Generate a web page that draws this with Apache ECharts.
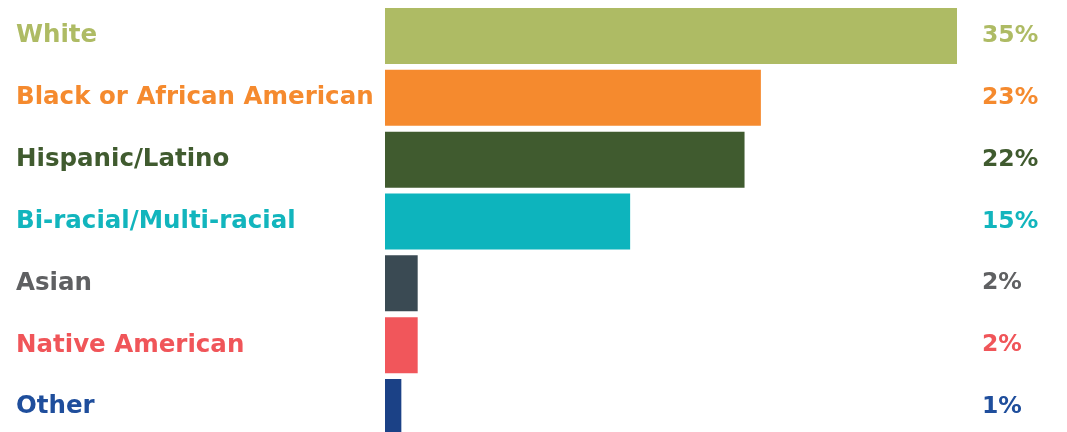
<!DOCTYPE html>
<html><head><meta charset="utf-8">
<script src="https://cdn.jsdelivr.net/npm/echarts@6/dist/echarts.min.js"></script>
<style>html,body{margin:0;padding:0;background:#fff}#c{width:1067px;height:432px}</style>
</head><body><div id="c"></div>
<script>
var categories = ["White","Black or African American","Hispanic/Latino","Bi-racial/Multi-racial","Asian","Native American","Other"];
var values = [35,23,22,15,2,2,1];
var barColors = ["#AEBB64","#F58A2E","#405B2F","#0DB4BD","#3A4A53","#F1565B","#1B4186"];
var textColors = ["#AEBB64","#F58A2E","#405B2F","#12B5BD","#5F6062","#F05559","#1F4E9C"];
var FONT = "DejaVu Sans";
var chart = echarts.init(document.getElementById('c'));
chart.setOption({
  animation:false,
  grid:{left:385, top:5, width:572, height:433, containLabel:false, outerBoundsMode:'none'},
  xAxis:{type:'value', min:0, max:35, show:false},
  yAxis:[{
    type:'category', inverse:true, data:categories, position:'left',
    axisLine:{show:false}, axisTick:{show:false},
    axisLabel:{align:'left', margin:369, fontFamily:FONT, fontWeight:'bold', fontSize:24.5,
      color:function(v,i){return textColors[i];}}
  },{
    type:'category', inverse:true, data:values.map(function(v){return v+'%';}), position:'right',
    axisLine:{show:false}, axisTick:{show:false},
    axisLabel:{align:'left', margin:25, fontFamily:FONT, fontWeight:'bold', fontSize:23.5,
      color:function(v,i){return textColors[i];}}
  }],
  series:[{
    type:'bar', data:values.map(function(v,i){return {value:v,itemStyle:{color:barColors[i]}};}),
    barWidth:56, silent:true
  }]
});
</script></body></html>
